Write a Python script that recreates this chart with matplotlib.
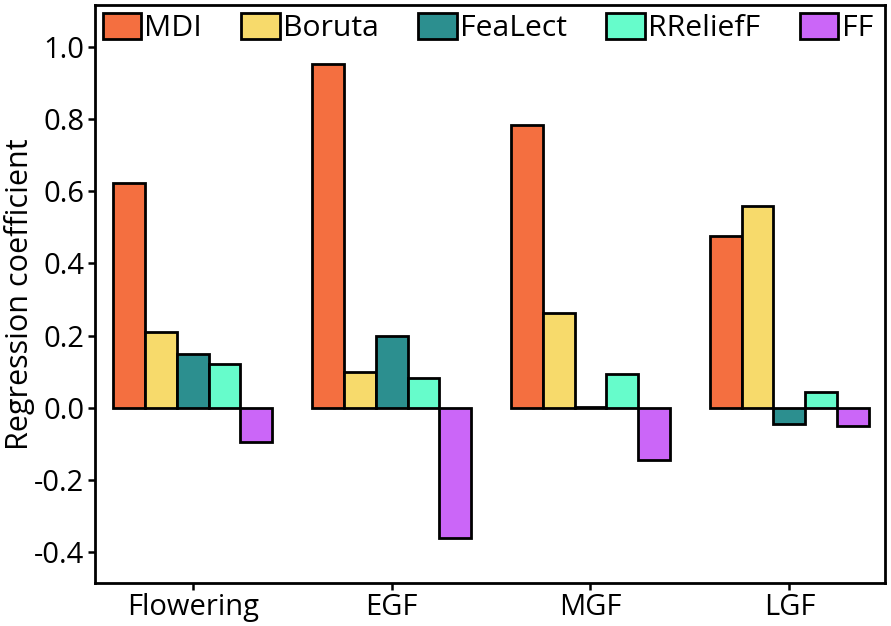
import numpy as np
import matplotlib.pyplot as plt
from matplotlib.patches import Patch

plt.rcParams['font.family'] = ['Open Sans', 'DejaVu Sans']

stages = ['Flowering', 'EGF', 'MGF', 'LGF']
methods = ['MDI', 'Boruta', 'FeaLect', 'RReliefF', 'FF']
colors = ['#F46F40', '#F7DA6B', '#2C8F8F', '#66FCCB', '#CB66F8']

mdi = [0.623, 0.953, 0.784, 0.476]
boruta = [0.21, 0.10, 0.263, 0.56]
fealect = [0.15, 0.20, 0.003, -0.045]
rrelieff = [0.12, 0.083, 0.094, 0.045]
ff = [-0.095, -0.36, -0.145, -0.05]
values = [mdi, boruta, fealect, rrelieff, ff]

fig = plt.figure(figsize=(8.91, 6.26), dpi=100)
ax = fig.add_axes([0.107, 0.069, 0.886, 0.923])

x = np.arange(len(stages))
w = 0.16
for i, (vals, c) in enumerate(zip(values, colors)):
    ax.bar(x + (i - 2) * w, vals, w, color=c, edgecolor='black', linewidth=2, zorder=2)

ax.set_xlim(-0.49, 3.48)
ax.set_ylim(-0.485, 1.116)
ax.set_xticks(x)
ax.set_xticklabels(stages)
yt = np.arange(-0.4, 1.01, 0.2)
ax.set_yticks(yt)
ax.set_yticklabels(['%.1f' % v for v in yt])
ax.tick_params(labelsize=21, width=1.8, length=5, colors='black')
ax.tick_params(axis='y', pad=3)
ax.tick_params(axis='x', pad=2)
ax.set_ylabel('Regression coefficient', fontsize=22)
ax.yaxis.set_label_coords(-0.076, 0.5)
for s in ax.spines.values():
    s.set_linewidth(2)

handles = [Patch(facecolor=c, edgecolor='black', linewidth=2) for c in colors]
ax.legend(handles, methods, loc='upper center', ncol=5, frameon=False, fontsize=21.7,
          handlelength=1.27, handleheight=0.95, handletextpad=0.12, columnspacing=1.3,
          borderaxespad=0.1, bbox_to_anchor=(0.497, 1.013))

fig.savefig('out.png', dpi=100)
